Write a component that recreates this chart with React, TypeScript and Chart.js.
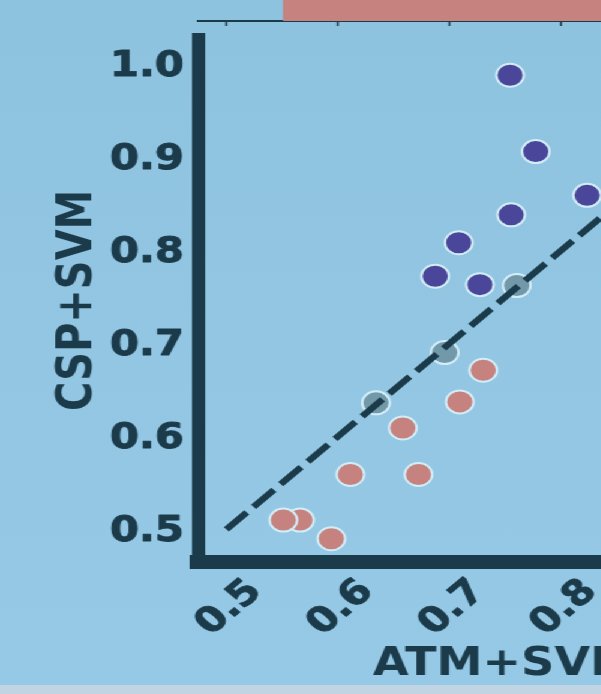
import React, { useEffect, useRef } from 'react';
import { Chart, registerables } from 'chart.js';

Chart.register(...registerables);

// ---- data ----
const PURPLE_X = [0.754, 0.777, 0.823, 0.755, 0.708, 0.687, 0.727];
const PURPLE_Y = [0.988, 0.906, 0.859, 0.838, 0.808, 0.772, 0.763];
const GREY_X = [0.760, 0.6955, 0.634];
const GREY_Y = [0.762, 0.690, 0.636];
const SALMON_X = [0.730, 0.709, 0.658, 0.611, 0.672, 0.566, 0.551, 0.594];
const SALMON_Y = [0.671, 0.637, 0.609, 0.559, 0.559, 0.510, 0.510, 0.490];
const DIAG_X = [0.5, 1.0];
const DIAG_Y = [0.5, 1.0];
const X_TICKS = [0.5, 0.6, 0.7, 0.8, 0.9, 1.0];
const X_TICK_LABELS = ['0.5', '0.6', '0.7', '0.8', '0.9', '1.0'];
const Y_TICKS = [0.5, 0.6, 0.7, 0.8, 0.9, 1.0];
const Y_TICK_LABELS = ['0.5', '0.6', '0.7', '0.8', '0.9', '1.0'];
const TOP_BAR = [0.551, 1.0];
const X_MIN = 0.475;
const X_MAX = 1.023;
const Y_MIN = 0.465;
const Y_MAX = 1.0275;
const X_TITLE = 'ATM+SVM';
const Y_TITLE = 'CSP+SVM';

// ---- style ----
const STRETCH = 1.2;
const W = 720;
const H = 685;
const TOP_H = 30;
const AREA_LEFT = 165.4;
const AREA_RIGHT = 675.4;
const AREA_TOP = 38.5;
const AREA_BOTTOM = 562;
const FONT = '"DejaVu Sans", sans-serif';
const TICK_SIZE = 35;
const X_TITLE_SIZE = 38.5;
const Y_TITLE_SIZE = 40;
const DARK = '#1b3a4a';
const PURPLE = '#4a479a';
const SALMON = '#c5827e';
const GREY = '#7199a9';
const EDGE = '#d3edf7';

const pts = (xs: number[], ys: number[]) => xs.map((x, i) => ({ x, y: ys[i] }));

const tickLabelPlugin = {
  id: 'tickLabels',
  afterDraw(chart: any) {
    const ctx = chart.ctx;
    const sx = chart.scales.x;
    const sy = chart.scales.y;
    ctx.save();
    ctx.font = `bold ${TICK_SIZE}px ${FONT}`;
    ctx.fillStyle = DARK;
    ctx.strokeStyle = DARK;
    ctx.lineWidth = 0.9;
    ctx.lineJoin = 'round';
    ctx.textBaseline = 'alphabetic';
    // y tick labels
    ctx.textAlign = 'right';
    Y_TICKS.forEach((v, i) => {
      const py = sy.getPixelForValue(v) + 0.33 * TICK_SIZE;
      const px = sx.left - 12;
      ctx.fillText(Y_TICK_LABELS[i], px, py);
      ctx.strokeText(Y_TICK_LABELS[i], px, py);
    });
    // x tick labels, rotated
    ctx.textAlign = 'center';
    X_TICKS.forEach((v, i) => {
      const px = sx.getPixelForValue(v);
      ctx.save();
      ctx.translate(px, sx.top + 43.5);
      ctx.rotate(-Math.PI / 4);
      ctx.fillText(X_TICK_LABELS[i], 0, 0.36 * TICK_SIZE);
      ctx.strokeText(X_TICK_LABELS[i], 0, 0.36 * TICK_SIZE);
      ctx.restore();
    });
    ctx.restore();
  },
};

export default function App() {
  const mainRef = useRef<HTMLCanvasElement>(null);
  const topRef = useRef<HTMLCanvasElement>(null);

  useEffect(() => {
    const pointDs = (label: string, xs: number[], ys: number[], color: string) => ({
      label,
      data: pts(xs, ys),
      backgroundColor: color,
      borderColor: EDGE,
      borderWidth: 2,
      pointRadius: 11.5,
      pointHoverRadius: 11.5,
      order: 1,
    });

    const main = new Chart(mainRef.current!, {
      type: 'scatter',
      data: {
        datasets: [
          {
            label: 'diag',
            data: pts(DIAG_X, DIAG_Y),
            showLine: true,
            borderColor: DARK,
            borderWidth: 6,
            borderDash: [24, 8],
            pointRadius: 0,
            order: 0,
          } as any,
          pointDs('grey', GREY_X, GREY_Y, GREY),
          pointDs('purple', PURPLE_X, PURPLE_Y, PURPLE),
          pointDs('salmon', SALMON_X, SALMON_Y, SALMON),
        ],
      },
      options: {
        animation: false,
        responsive: false,
        maintainAspectRatio: false,
        devicePixelRatio: 1,
        layout: { padding: { left: 0, top: AREA_TOP, right: W - AREA_RIGHT, bottom: 0 } },
        plugins: { legend: { display: false }, tooltip: { enabled: false } },
        scales: {
          x: {
            type: 'linear',
            min: X_MIN,
            max: X_MAX,
            afterBuildTicks: (s: any) => {
              s.ticks = X_TICKS.map((v) => ({ value: v }));
            },
            afterFit: (s: any) => {
              s.height = H - AREA_BOTTOM;
            },
            grid: { display: false, drawTicks: false },
            border: { display: true, width: 14, color: DARK },
            ticks: { display: false },
            title: {
              display: true,
              text: X_TITLE,
              color: DARK,
              font: { family: FONT, size: X_TITLE_SIZE, weight: 'bold', lineHeight: 1.05 },
              padding: 0,
            },
          },
          y: {
            type: 'linear',
            min: Y_MIN,
            max: Y_MAX,
            afterBuildTicks: (s: any) => {
              s.ticks = Y_TICKS.map((v) => ({ value: v }));
            },
            afterFit: (s: any) => {
              s.width = AREA_LEFT;
            },
            grid: { display: false, drawTicks: false },
            border: { display: true, width: 11, color: DARK },
            ticks: { display: false },
            title: {
              display: true,
              text: Y_TITLE,
              color: DARK,
              font: { family: FONT, size: Y_TITLE_SIZE, weight: 'bold', lineHeight: 1.2 },
              padding: { top: 42, bottom: 0 },
            },
          },
        },
      } as any,
      plugins: [tickLabelPlugin],
    });

    const top = new Chart(topRef.current!, {
      type: 'bar',
      data: {
        labels: ['hist'],
        datasets: [
          {
            data: [TOP_BAR as any],
            backgroundColor: SALMON,
            borderWidth: 0,
            barPercentage: 1,
            categoryPercentage: 1,
          },
        ],
      },
      options: {
        indexAxis: 'y',
        animation: false,
        responsive: false,
        maintainAspectRatio: false,
        devicePixelRatio: 1,
        layout: { padding: { left: AREA_LEFT, top: 0, right: W - AREA_RIGHT, bottom: 0 } },
        plugins: { legend: { display: false }, tooltip: { enabled: false } },
        scales: {
          x: {
            type: 'linear',
            min: X_MIN,
            max: X_MAX,
            afterBuildTicks: (s: any) => {
              s.ticks = X_TICKS.map((v) => ({ value: v }));
            },
            afterFit: (s: any) => {
              s.height = TOP_H - 21;
            },
            grid: {
              display: true,
              drawOnChartArea: false,
              drawTicks: true,
              tickLength: 5,
              tickWidth: 1.6,
              tickColor: DARK,
            },
            border: { display: true, width: 2, color: DARK },
            ticks: { display: false },
          },
          y: { display: false },
        },
      } as any,
    });

    return () => {
      main.destroy();
      top.destroy();
    };
  }, []);

  return (
    <div
      style={{
        position: 'fixed',
        left: 0,
        top: 0,
        width: 601,
        height: 694,
        overflow: 'hidden',
        background: '#c0d4e3',
      }}
    >
      <div
        style={{
          position: 'absolute',
          left: 0,
          top: 0,
          width: 601,
          height: H,
          background: 'linear-gradient(to bottom, #8ec3e0, #96c9e6)',
        }}
      />
      <div
        style={{
          position: 'absolute',
          left: 0,
          top: 0,
          width: W,
          height: H,
          transform: `scaleX(${STRETCH})`,
          transformOrigin: '0 0',
        }}
      >
        <canvas
          ref={mainRef}
          width={W}
          height={H}
          style={{ position: 'absolute', left: 0, top: 0, width: W, height: H, display: 'block' }}
        />
        <canvas
          ref={topRef}
          width={W}
          height={TOP_H}
          style={{ position: 'absolute', left: 0, top: 0, width: W, height: TOP_H, display: 'block' }}
        />
      </div>
    </div>
  );
}
